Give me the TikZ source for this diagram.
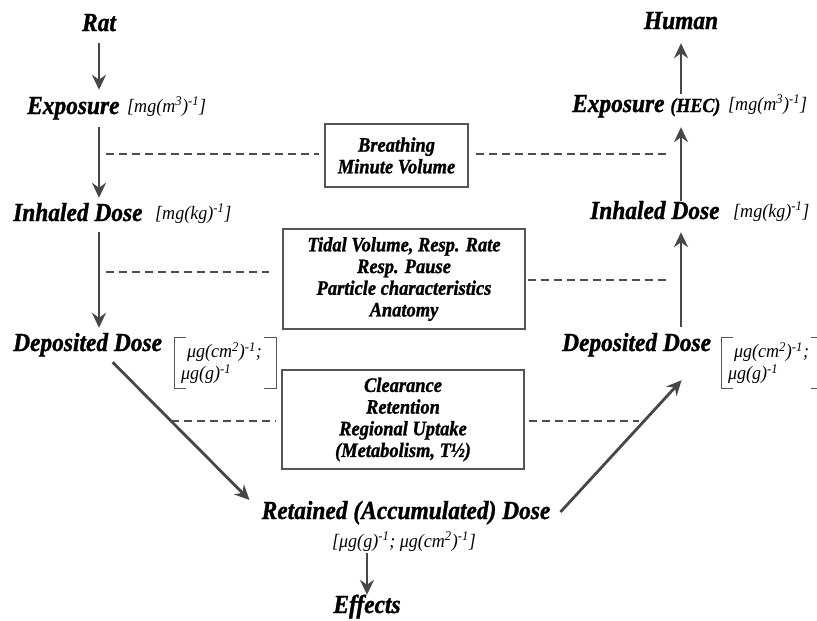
\documentclass[tikz,border=0pt]{standalone}
\usepackage{fontspec}
\setmainfont{Liberation Serif}
\newfontfamily\labfont{Liberation Serif}[FakeStretch=0.9, BoldItalicFeatures={FakeBold=1.2}]
\newfontfamily\unitfont{Liberation Serif}[FakeStretch=0.95]
\usetikzlibrary{arrows.meta,calc}
\definecolor{arrgray}{HTML}{474747}
\definecolor{dashgray}{HTML}{4D4D4D}
\definecolor{boxgray}{HTML}{555555}
\tikzset{
 mainlab/.style={inner sep=0pt, font=\labfont\bfseries\itshape\fontsize{26}{30}\selectfont, text height=18pt, text depth=6pt},
 unitlab/.style={inner sep=0pt, font=\unitfont\itshape\fontsize{19}{22}\selectfont, text height=13pt, text depth=5pt},
 infobox/.style={draw=boxgray, line width=1.2pt, inner sep=0pt, font=\labfont\bfseries\itshape\fontsize{20.5}{21.7}\selectfont, align=center},
 bracketunits/.style={inner xsep=6pt, inner ysep=0pt, minimum width=101pt, minimum height=50pt, text width=89pt, align=left, font=\unitfont\itshape\fontsize{19}{22}\selectfont},
 arr/.style={draw=arrgray, line width=2.8pt, -{Stealth[length=15pt,width=14pt,inset=5pt]}},
 dashline/.style={draw=dashgray, line width=2pt, dash pattern=on 8pt off 5pt},
 brk/.style={draw=boxgray, line width=1pt}
}
\begin{document}
\begin{tikzpicture}[x=1pt,y=-1pt]
\useasboundingbox (0,0) rectangle (817,621);
% left column
\node[mainlab] (rat) at (99,25) {Rat};
\node[mainlab, anchor=west] (expL) at (27,108) {Exposure};
\node[unitlab, anchor=west] (expLU) at (127,108) {[mg(m\textsuperscript{3})\textsuperscript{-1}]};
\node[mainlab, anchor=west] (inhL) at (13,215) {Inhaled Dose};
\node[unitlab, anchor=west] (inhLU) at (155,215) {[mg(kg)\textsuperscript{-1}]};
\node[mainlab, anchor=west] (depL) at (13,345) {Deposited Dose};
\node[bracketunits] (depLU) at (225.5,363) {\hspace*{6pt}μg(cm\textsuperscript{2})\textsuperscript{-1};\\μg(g)\textsuperscript{-1}};
% right column
\node[mainlab] (hum) at (681,23) {Human};
\node[mainlab, anchor=west] (expR) at (572,106) {Exposure {\fontsize{20}{24}\selectfont(HEC)}};
\node[unitlab, anchor=west] (expRU) at (728,106) {[mg(m\textsuperscript{3})\textsuperscript{-1}]};
\node[mainlab, anchor=west] (inhR) at (590,213) {Inhaled Dose};
\node[unitlab, anchor=west] (inhRU) at (733,213) {[mg(kg)\textsuperscript{-1}]};
\node[mainlab, anchor=west] (depR) at (562,345) {Deposited Dose};
\node[bracketunits] (depRU) at (772.5,363) {\hspace*{6pt}μg(cm\textsuperscript{2})\textsuperscript{-1};\\μg(g)\textsuperscript{-1}};
% bottom
\node[mainlab] (ret) at (406,513) {Retained (Accumulated) Dose};
\node[unitlab] (retU) at (404,543) {[μg(g)\textsuperscript{-1}; μg(cm\textsuperscript{2})\textsuperscript{-1}]};
\node[mainlab] (eff) at (367,607) {Effects};
% boxes
\node[infobox, minimum width=143pt, minimum height=63pt] (breath) at (396.5,155.5) {Breathing\\Minute Volume};
\node[infobox, minimum width=242pt, minimum height=100pt] (tidal) at (404,279) {Tidal Volume, Resp. Rate\\Resp. Pause\\Particle characteristics\\Anatomy};
\node[infobox, minimum width=242pt, minimum height=99pt] (clear) at (403,419.5) {Clearance\\Retention\\Regional Uptake\\(Metabolism, T½)};
% brackets
\draw[brk] ($(depLU.north west)+(11,0)$) -- (depLU.north west) -- (depLU.south west) -- ++(11,0);
\draw[brk] ($(depLU.north east)+(-12,0)$) -- (depLU.north east) -- (depLU.south east) -- ++(-12,0);
\draw[brk] ($(depRU.north west)+(11,0)$) -- (depRU.north west) -- (depRU.south west) -- ++(11,0);
\draw[brk] ($(depRU.north east)+(-12,0)$) -- (depRU.north east) -- (depRU.south east) -- ++(-12,0);
% arrows left
\draw[arr, shorten <=6pt, shorten >=6pt] (rat.south) -- (rat.south |- expL.north);
\draw[arr, shorten <=7pt, shorten >=5pt] (rat.south |- expL.south) -- (rat.south |- inhL.north);
\draw[arr, shorten <=5pt, shorten >=5pt] (rat.south |- inhL.south) -- (rat.south |- depL.north);
% arrows right
\draw[arr, shorten >=8pt] (hum.south |- expR.north) -- (hum.south);
\draw[arr, shorten >=9pt] (hum.south |- inhR.north) -- (hum.south |- expR.south);
\draw[arr, shorten <=6pt, shorten >=7pt] (hum.south |- depR.north) -- (hum.south |- inhR.south);
% diagonal and bottom arrows
\draw[arr] ($(depL.south)+(25,5)$) -- ($(ret.west)+(-12,-13)$);
\draw[arr] ($(ret.east)+(10,-1)$) -- ($(depR.south)+(45,23)$);
\draw[arr, shorten <=1pt] (eff.north |- retU.south) -- (eff.north);
% dashed links
\draw[dashline] ($(rat.south |- breath.west)+(7,-1.5)$) -- ($(breath.west)+(-5,-1.5)$);
\draw[dashline] ($(breath.east)+(7,-1.5)$) -- ($(hum.south |- breath.east)+(-13,-1.5)$);
\draw[dashline] ($(rat.south |- tidal.west)+(7,-7)$) -- ($(tidal.west)+(-13,-7)$);
\draw[dashline] ($(tidal.east)+(2,1)$) -- ($(hum.south |- tidal.east)+(-13,1)$);
\draw[dashline] ($(clear.west)+(-110,1.5)$) -- ($(clear.west)+(-5,1.5)$);
\draw[dashline] ($(clear.east)+(4,1.5)$) -- ($(clear.east)+(114,1.5)$);
\end{tikzpicture}
\end{document}
